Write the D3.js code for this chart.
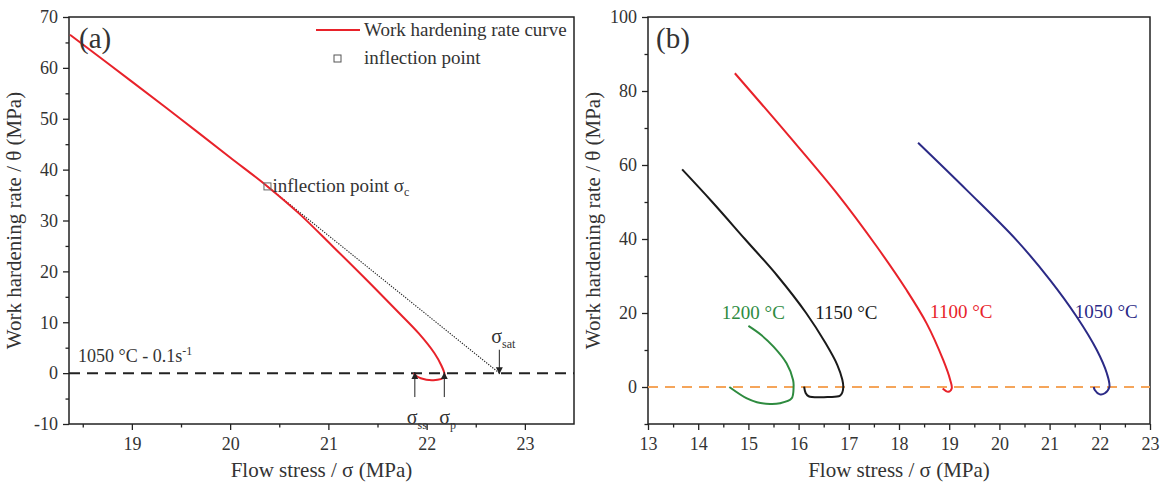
<!DOCTYPE html>
<html><head><meta charset="utf-8">
<script src="https://cdn.jsdelivr.net/npm/d3@7"></script>
<style>
body{margin:0;background:#fff}
svg text{font-family:"Liberation Serif","Times New Roman",serif !important;fill:#333}
</style>
</head><body>
<svg id="c" width="1167" height="491"></svg>
<script>
// ---------- Panel (a): 1050 °C - 0.1 s-1 ----------
const aStress = [18.37, 19.0, 19.5, 20.0, 20.38, 20.70, 21.04, 21.38, 21.69, 21.92, 22.08, 22.15, 22.18, 22.18, 22.07, 21.94, 21.88, 21.87];
const aTheta  = [66.5, 57.3, 49.9, 42.4, 36.7, 31.4, 25.0, 18.5, 12.4, 7.8, 3.9, 1.5, 0.0, -0.8, -1.4, -1.0, -0.3, 0.0];
const aInflection = [20.38, 36.7];
const aSigmaSat = 22.74, aSigmaSS = 21.88, aSigmaP = 22.18;
const aXTicks = [19, 20, 21, 22, 23];
const aXMinor = [18.5, 19.5, 20.5, 21.5, 22.5];
const aYTicks = [-10, 0, 10, 20, 30, 40, 50, 60, 70];
const aYMinor = [-5, 5, 15, 25, 35, 45, 55, 65];

// ---------- Panel (b): temperatures ----------
const bLabels = ["1200 °C", "1150 °C", "1100 °C", "1050 °C"];
const bColors = ["#2e8b3f", "#1a1a1a", "#e8222a", "#2b2a86"];
const b1200X = [15.0, 15.25, 15.5, 15.76, 15.89, 15.9, 15.86, 15.63, 15.43, 15.17, 14.97, 14.62];
const b1200Y = [16.5, 14.1, 10.9, 6.4, 1.9, 0.0, -3.1, -4.4, -4.6, -4.1, -3.1, 0.0];
const b1150X = [13.68, 14.28, 14.93, 15.58, 16.15, 16.53, 16.77, 16.87, 16.89, 16.87, 16.82, 16.6, 16.43, 16.2, 16.14, 16.11];
const b1150Y = [58.8, 50.0, 40.0, 30.0, 20.0, 12.0, 6.0, 2.0, 0.0, -1.5, -2.4, -2.7, -2.8, -2.5, -1.6, 0.1];
const b1100X = [14.73, 15.76, 16.76, 17.56, 18.15, 18.55, 18.88, 19.02, 19.05, 18.98, 18.87];
const b1100Y = [84.8, 68.6, 52.4, 37.9, 26.2, 17.2, 7.3, 1.9, -0.4, -1.3, -0.4];
const b1050X = [18.38, 19.35, 20.34, 21.01, 21.54, 21.94, 22.14, 22.19, 22.1, 22.0, 21.9, 21.88];
const b1050Y = [66.0, 53.2, 39.7, 28.9, 19.0, 10.0, 3.7, 0.0, -1.7, -2.0, -0.8, 0.0];
const bLabelPos = [[14.47, 20.0], [16.33, 20.0], [18.62, 20.4], [21.5, 20.4]];
const bXTicks = [13, 14, 15, 16, 17, 18, 19, 20, 21, 22, 23];
const bXMinor = [13.5, 14.5, 15.5, 16.5, 17.5, 18.5, 19.5, 20.5, 21.5, 22.5];
const bYTicks = [0, 20, 40, 60, 80, 100];
const bYMinor = [-10, 10, 30, 50, 70, 90];

const FONT = '"Liberation Serif","Times New Roman",serif';
const svg = d3.select("#c");
const defs = svg.append("defs");
defs.append("marker").attr("id","ah").attr("viewBox","0 0 10 10").attr("refX",10).attr("refY",5)
  .attr("markerWidth",7).attr("markerHeight",8).attr("orient","auto-start-reverse")
  .append("path").attr("d","M0,0 L10,5 L0,10 z").attr("fill","#222");

function axes(g, x, y, xt, xm, yt, ym){
  const [x0,x1] = x.range(), [y1,y0] = y.range();
  const fmt = d => String(d);
  const ax = g.append("g").attr("transform",`translate(0,${y1})`)
    .call(d3.axisBottom(x).tickValues(xt).tickSize(6).tickSizeOuter(0).tickPadding(7).tickFormat(fmt));
  const axm = g.append("g").attr("transform",`translate(0,${y1})`)
    .call(d3.axisBottom(x).tickValues(xm).tickSize(3.5).tickSizeOuter(0).tickFormat(""));
  const ay = g.append("g").attr("transform",`translate(${x0},0)`)
    .call(d3.axisLeft(y).tickValues(yt).tickSize(6).tickSizeOuter(0).tickPadding(5).tickFormat(fmt));
  const aym = g.append("g").attr("transform",`translate(${x0},0)`)
    .call(d3.axisLeft(y).tickValues(ym).tickSize(3.5).tickSizeOuter(0).tickFormat(""));
  [ax,axm,ay,aym].forEach(a=>{
    a.attr("font-family",FONT);
    a.select(".domain").remove();
    a.selectAll("line").attr("stroke","#222").attr("stroke-width",1.3);
    a.selectAll("text").attr("font-size",18).style("fill","#333");
  });
  g.append("rect").attr("x",x0).attr("y",y0).attr("width",x1-x0).attr("height",y1-y0)
    .attr("fill","none").attr("stroke","#222").attr("stroke-width",1.5);
  g.append("text").attr("x",(x0+x1)/2).attr("y",477).attr("text-anchor","middle")
    .attr("font-size",21).text("Flow stress / σ (MPa)");
  g.append("text").attr("transform",`translate(${x0-48},${(y0+y1)/2}) rotate(-90)`)
    .attr("text-anchor","middle").attr("font-size",21).text("Work hardening rate / θ (MPa)");
}

// ---------- Panel (a) ----------
const xa = d3.scaleLinear().domain([18.36, 23.5]).range([69, 574]);
const ya = d3.scaleLinear().domain([-10, 70]).range([424, 17]);
const ga = svg.append("g");
axes(ga, xa, ya, aXTicks, aXMinor, aYTicks, aYMinor);

ga.append("line").attr("x1",xa.range()[0]).attr("x2",xa.range()[1]).attr("y1",ya(0)).attr("y2",ya(0))
  .attr("stroke","#222").attr("stroke-width",2).attr("stroke-dasharray","11,7");
// tangent (dotted)
ga.append("line").attr("x1",xa(aInflection[0])).attr("y1",ya(aInflection[1]))
  .attr("x2",xa(aSigmaSat)).attr("y2",ya(0))
  .attr("stroke","#222").attr("stroke-width",1.1).attr("stroke-dasharray","1.3,1.3");
const lineA = d3.line().x(d=>xa(d[0])).y(d=>ya(d[1])).curve(d3.curveCatmullRom.alpha(0.5));
ga.append("path").datum(aStress.map((s,i)=>[s,aTheta[i]])).attr("d",lineA)
  .attr("fill","none").attr("stroke","#e8222a").attr("stroke-width",2);
ga.append("rect").attr("x",xa(aInflection[0])-3.5).attr("y",ya(aInflection[1])-3.5)
  .attr("width",7).attr("height",7).attr("fill","none").attr("stroke","#666").attr("stroke-width",1);
const tI = ga.append("text").attr("x",xa(aInflection[0])+5).attr("y",ya(aInflection[1])+6).attr("font-size",19);
tI.append("tspan").text("inflection point σ");
tI.append("tspan").attr("dy",4).attr("font-size",12).text("c");

// arrows
ga.append("line").attr("x1",xa(aSigmaSat)).attr("x2",xa(aSigmaSat)).attr("y1",ya(4.6)).attr("y2",ya(0)+1)
  .attr("stroke","#222").attr("stroke-width",1).attr("marker-end","url(#ah)");
[aSigmaSS, aSigmaP].forEach(s=>{
  ga.append("line").attr("x1",xa(s)).attr("x2",xa(s)).attr("y1",ya(-4.7)).attr("y2",ya(0)-1)
    .attr("stroke","#222").attr("stroke-width",1).attr("marker-end","url(#ah)");
});
function sig(g,x,y,sub){
  const t=g.append("text").attr("x",x).attr("y",y).attr("font-size",20);
  t.append("tspan").text("σ");
  t.append("tspan").attr("dy",5).attr("font-size",12).text(sub);
}
sig(ga, xa(aSigmaSat)-8, ya(7.1)+6, "sat");
sig(ga, xa(aSigmaSS)-8, ya(-8.8)+6, "ss");
sig(ga, xa(aSigmaP)-5, ya(-8.8)+6, "p");

const tc = ga.append("text").attr("x",78).attr("y",362).attr("font-size",18);
tc.append("tspan").text("1050 °C - 0.1s");
tc.append("tspan").attr("dy",-7).attr("font-size",12).text("-1");

// legend
ga.append("line").attr("x1",316).attr("x2",360).attr("y1",30).attr("y2",30).attr("stroke","#e8222a").attr("stroke-width",2);
ga.append("text").attr("x",364).attr("y",36).attr("font-size",19).text("Work hardening rate curve");
ga.append("rect").attr("x",334).attr("y",55).attr("width",7).attr("height",7).attr("fill","none").attr("stroke","#555");
ga.append("text").attr("x",364).attr("y",64).attr("font-size",19).text("inflection point");
ga.append("text").attr("x",79).attr("y",48).attr("font-size",29).text("(a)");

// ---------- Panel (b) ----------
const xb = d3.scaleLinear().domain([13, 23]).range([648, 1150]);
const yb = d3.scaleLinear().domain([-10, 100]).range([424, 17]);
const gb = svg.append("g");
axes(gb, xb, yb, bXTicks, bXMinor, bYTicks, bYMinor);
gb.append("line").attr("x1",xb.range()[0]).attr("x2",xb.range()[1]).attr("y1",yb(0)).attr("y2",yb(0))
  .attr("stroke","#f5a55a").attr("stroke-width",2).attr("stroke-dasharray","10,7");
const lineB = d3.line().x(d=>xb(d[0])).y(d=>yb(d[1])).curve(d3.curveCatmullRom.alpha(0.5));
const bSeries = [[b1200X,b1200Y],[b1150X,b1150Y],[b1100X,b1100Y],[b1050X,b1050Y]];
bSeries.forEach(([xs,ys],i)=>{
  gb.append("path").datum(xs.map((s,j)=>[s,ys[j]])).attr("d",lineB)
    .attr("fill","none").attr("stroke",bColors[i]).attr("stroke-width",2);
  gb.append("text").attr("x",xb(bLabelPos[i][0])).attr("y",yb(bLabelPos[i][1])+6)
    .attr("font-size",19).style("fill",bColors[i]).text(bLabels[i]);
});
gb.append("text").attr("x",656).attr("y",48).attr("font-size",29).text("(b)");
</script>
</body></html>
